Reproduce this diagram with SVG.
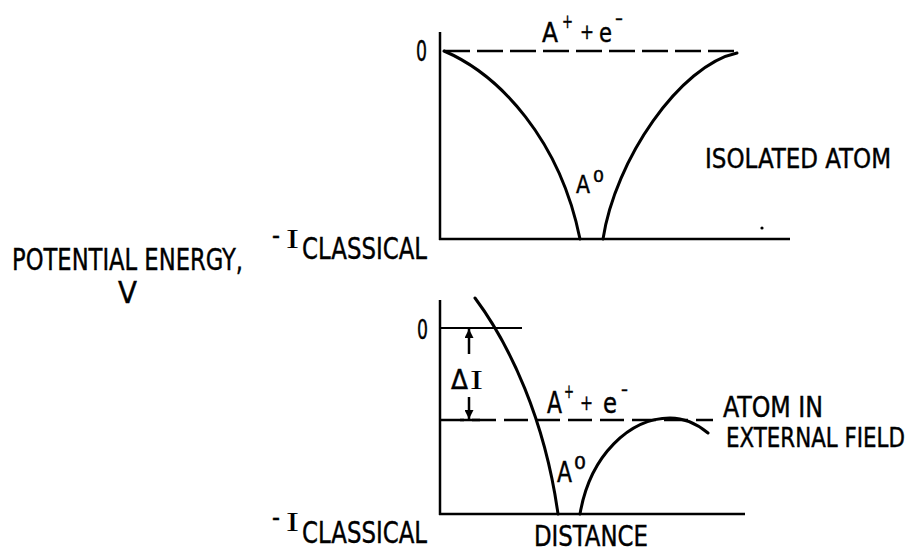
<svg xmlns="http://www.w3.org/2000/svg" width="914" height="553" viewBox="0 0 914 553">
<defs>
<style>
.t{font-family:'Liberation Sans Narrow','DejaVu Sans Condensed','Liberation Sans',sans-serif;fill:#000;stroke:#000;stroke-width:0.4}
.s{font-family:'Liberation Serif',serif;fill:#000}
.ax{stroke:#000;stroke-width:2.5;fill:none}
.cv{stroke:#000;stroke-width:3;fill:none;stroke-linecap:round}
.ds{stroke:#000;stroke-width:2.5;fill:none}
</style>
<marker id="ah" viewBox="0 0 10 10" refX="10" refY="5" markerWidth="5" markerHeight="3.6" orient="auto" markerUnits="strokeWidth">
<path d="M0,0 L10,5 L0,10 z" fill="#000"/>
</marker>
</defs>
<rect width="914" height="553" fill="#fff"/>

<g id="left-label">
<text class="t" x="12" y="270" font-size="31" textLength="231" lengthAdjust="spacingAndGlyphs">POTENTIAL ENERGY,</text>
<text class="t" x="118" y="303" font-size="30" textLength="19" lengthAdjust="spacingAndGlyphs">V</text>
</g>

<g id="top-panel">
<g id="top-axes">
<line class="ax" x1="440" y1="32" x2="440" y2="240"/>
<line class="ax" x1="439" y1="239" x2="790" y2="239"/>
</g>
<line class="ds" x1="444" y1="51" x2="738" y2="51" stroke-dasharray="26 7"/>
<path class="cv" d="M444,51 C500,75 560,140 580,239"/>
<path class="cv" d="M603,239 C615,160 680,65 737,53"/>
<circle cx="762" cy="228" r="1.6" fill="#000"/>
<text class="t" x="416" y="61" font-size="28" textLength="11" lengthAdjust="spacingAndGlyphs">0</text>
<g id="top-ion-label">
<text class="t" x="542" y="42" font-size="27" textLength="16" lengthAdjust="spacingAndGlyphs">A</text>
<text class="t" x="562" y="28" font-size="20" textLength="11" lengthAdjust="spacingAndGlyphs">+</text>
<text class="t" x="580" y="39" font-size="22" textLength="14" lengthAdjust="spacingAndGlyphs">+</text>
<text class="t" x="599" y="42" font-size="26" textLength="13" lengthAdjust="spacingAndGlyphs">e</text>
<text class="t" x="615" y="25" font-size="20" textLength="8" lengthAdjust="spacingAndGlyphs">-</text>
</g>
<g id="top-atom-label">
<text class="t" x="576" y="193" font-size="24" textLength="14" lengthAdjust="spacingAndGlyphs">A</text>
<text class="t" x="593" y="182" font-size="16" textLength="11" lengthAdjust="spacingAndGlyphs">0</text>
</g>
<text class="t" x="705" y="168" font-size="27" textLength="186" lengthAdjust="spacingAndGlyphs">ISOLATED ATOM</text>
<g id="top-iclassical">
<text class="t" x="272" y="244" font-size="26" textLength="8" lengthAdjust="spacingAndGlyphs">-</text>
<text class="s" x="286" y="248" font-size="28" textLength="13" lengthAdjust="spacingAndGlyphs">I</text>
<text class="t" x="302" y="259" font-size="30" textLength="125" lengthAdjust="spacingAndGlyphs">CLASSICAL</text>
</g>
</g>

<g id="bottom-panel">
<g id="bottom-axes">
<line class="ax" x1="440" y1="300" x2="440" y2="515"/>
<line class="ax" x1="439" y1="514" x2="745" y2="514"/>
</g>
<line x1="440" y1="328" x2="522" y2="328" stroke="#000" stroke-width="2"/>
<line class="ds" x1="440" y1="420" x2="713" y2="420" stroke-dasharray="24 8"/>
<line x1="460" y1="420" x2="480" y2="420" stroke="#000" stroke-width="2.5"/>
<path class="cv" d="M475,298 C510,345 545,420 558,514"/>
<path class="cv" d="M580,514 C590,455 630,418 670,418 Q690,418 708,433"/>
<text class="t" x="417" y="339" font-size="26" textLength="11" lengthAdjust="spacingAndGlyphs">0</text>
<g id="delta-i">
<line x1="469" y1="354" x2="469" y2="329" stroke="#000" stroke-width="2.5" marker-end="url(#ah)"/>
<line x1="469" y1="397" x2="469" y2="419" stroke="#000" stroke-width="2.5" marker-end="url(#ah)"/>
<text class="t" x="451" y="389" font-size="27" textLength="17" lengthAdjust="spacingAndGlyphs">Δ</text>
<text class="s" x="470" y="389" font-size="27" textLength="13" lengthAdjust="spacingAndGlyphs">I</text>
</g>
<g id="bottom-ion-label">
<text class="t" x="547" y="413" font-size="30" textLength="15" lengthAdjust="spacingAndGlyphs">A</text>
<text class="t" x="564" y="398" font-size="20" textLength="10" lengthAdjust="spacingAndGlyphs">+</text>
<text class="t" x="580" y="410" font-size="22" textLength="13" lengthAdjust="spacingAndGlyphs">+</text>
<text class="t" x="603" y="413" font-size="28" textLength="14" lengthAdjust="spacingAndGlyphs">e</text>
<text class="t" x="621" y="396" font-size="20" textLength="7" lengthAdjust="spacingAndGlyphs">-</text>
</g>
<g id="bottom-atom-label">
<text class="t" x="557" y="482" font-size="29" textLength="15" lengthAdjust="spacingAndGlyphs">A</text>
<text class="t" x="574" y="469" font-size="17" textLength="12" lengthAdjust="spacingAndGlyphs">0</text>
</g>
<text class="t" x="723" y="417" font-size="28" textLength="100" lengthAdjust="spacingAndGlyphs">ATOM IN</text>
<text class="t" x="726" y="447" font-size="26" textLength="179" lengthAdjust="spacingAndGlyphs">EXTERNAL FIELD</text>
<g id="bottom-iclassical">
<text class="t" x="272" y="526" font-size="26" textLength="8" lengthAdjust="spacingAndGlyphs">-</text>
<text class="s" x="286" y="531" font-size="28" textLength="13" lengthAdjust="spacingAndGlyphs">I</text>
<text class="t" x="302" y="543" font-size="30" textLength="125" lengthAdjust="spacingAndGlyphs">CLASSICAL</text>
</g>
<text class="t" x="534" y="546" font-size="28" textLength="114" lengthAdjust="spacingAndGlyphs">DISTANCE</text>
</g>
</svg>
